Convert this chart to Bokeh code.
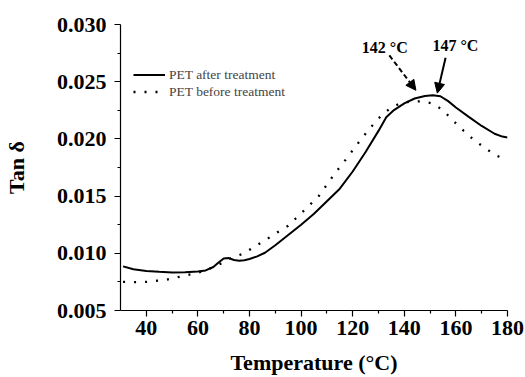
from bokeh.plotting import figure
from bokeh.models import Range1d, FixedTicker, Legend, LegendItem, Arrow, NormalHead, Label, NumeralTickFormatter
from bokeh.embed import file_html
from bokeh.resources import INLINE

# ---- data ----
after_x = [31, 35, 40, 45, 50, 55, 60, 63, 66, 68, 70, 72, 74, 76, 78, 80, 83, 86, 90, 95,
           100, 105, 110, 115, 120, 125, 130, 133, 136, 140, 144, 148, 151, 154, 157, 160,
           165, 170, 175, 178, 180]
after_y = [0.00886, 0.00860, 0.00845, 0.00838, 0.00833, 0.00834, 0.00840, 0.00850, 0.00880,
           0.00920, 0.00955, 0.00958, 0.00942, 0.00935, 0.00940, 0.00950, 0.00973, 0.01005,
           0.01070, 0.01160, 0.01250, 0.01345, 0.01455, 0.01565, 0.01715, 0.01885, 0.02070,
           0.02190, 0.02252, 0.02310, 0.02353, 0.02375, 0.02382, 0.02373, 0.02330, 0.02275,
           0.02193, 0.02113, 0.02045, 0.02020, 0.02013]

before_x = [31, 35, 40, 44, 48, 52, 56, 60, 65, 69.5, 73, 78, 82, 86.5, 90.5, 95, 99, 103,
            107, 110, 113, 116.5, 120, 123, 126.3, 130, 134, 138, 142, 147, 151, 155, 159,
            163, 167, 171.5, 175.7, 180]
before_y = [0.00750, 0.00747, 0.00750, 0.00760, 0.00770, 0.00790, 0.00810, 0.00830, 0.00870,
            0.00916, 0.00960, 0.01000, 0.01060, 0.01120, 0.01180, 0.01240, 0.01328, 0.01415,
            0.01504, 0.01600, 0.01695, 0.01795, 0.01900, 0.01990, 0.02083, 0.02179, 0.02257,
            0.02309, 0.02325, 0.02329, 0.02309, 0.02251, 0.02158, 0.02071, 0.01990, 0.01917,
            0.01853, 0.01820]

series_labels = ["PET after treatment", "PET before treatment"]

x_ticks = [40, 60, 80, 100, 120, 140, 160, 180]
x_minor = [50, 70, 90, 110, 130, 150, 170]
y_ticks = [0.005, 0.010, 0.015, 0.020, 0.025, 0.030]
y_minor = [0.0075, 0.0125, 0.0175, 0.0225, 0.0275]

ann_text = ["142 °C", "147 °C"]
ann_pos = [(123.5, 0.02800), (150.9, 0.02817)]
arrow_dashed = (134.2, 0.0273, 144.5, 0.02425)
arrow_solid = (156.0, 0.0271, 152.8, 0.0240)

FONT = "Liberation Serif"

p = figure(width=525, height=377, output_backend="svg", toolbar_location=None,
           x_range=Range1d(30, 180), y_range=Range1d(0.005, 0.030),
           min_border_left=118, min_border_right=18, min_border_top=24, min_border_bottom=66)
p.outline_line_color = None
p.grid.visible = False
p.background_fill_color = "white"

# axes
for ax in (p.xaxis[0], p.yaxis[0]):
    ax.axis_line_color = "black"
    ax.axis_line_width = 1.2
    ax.major_tick_in = 0
    ax.major_tick_out = 6
    ax.minor_tick_in = 0
    ax.minor_tick_out = 3
    ax.major_tick_line_width = 1.2
    ax.minor_tick_line_width = 1.2
    ax.major_label_text_font = FONT
    ax.major_label_text_font_style = "bold"
    ax.major_label_text_font_size = "22px"
    ax.major_label_text_color = "black"
    ax.axis_label_text_font = FONT
    ax.axis_label_text_font_style = "bold"
    ax.axis_label_text_font_size = "22px"
    ax.axis_label_text_color = "black"

p.xaxis.ticker = FixedTicker(ticks=x_ticks, minor_ticks=x_minor)
p.yaxis.ticker = FixedTicker(ticks=y_ticks, minor_ticks=y_minor)
p.yaxis.formatter = NumeralTickFormatter(format="0.000")
p.xaxis.axis_label = "Temperature (°C)"
p.yaxis.axis_label = "Tan δ"
p.xaxis.major_label_standoff = 4
p.yaxis.major_label_standoff = 8
p.xaxis.axis_label_standoff = 12
p.yaxis.axis_label_standoff = 25

# series
r1 = p.line(after_x, after_y, line_color="black", line_width=2)
r2 = p.line(before_x, before_y, line_color="black", line_width=2.3, line_dash="2 9")

legend = Legend(items=[LegendItem(label=series_labels[0], renderers=[r1]),
                       LegendItem(label=series_labels[1], renderers=[r2])],
                location=(13, 210), padding=0, margin=0, spacing=0,
                glyph_width=32, glyph_height=17, label_height=17, label_standoff=4,
                label_text_font=FONT, label_text_font_size="13.5px",
                border_line_color=None, background_fill_alpha=0)
p.add_layout(legend)

# annotations
for t, (x, y) in zip(ann_text, ann_pos):
    p.add_layout(Label(x=x, y=y, text=t, text_font=FONT, text_font_style="bold",
                       text_font_size="16px", text_baseline="alphabetic", text_color="black"))

x0, y0, x1, y1 = arrow_dashed
p.add_layout(Arrow(end=NormalHead(size=10, fill_color="black", line_color="black", line_width=1),
                   x_start=x0, y_start=y0, x_end=x1, y_end=y1,
                   line_width=2, line_dash="5 3", line_color="black"))
x0, y0, x1, y1 = arrow_solid
p.add_layout(Arrow(end=NormalHead(size=10, fill_color="black", line_color="black", line_width=1),
                   x_start=x0, y_start=y0, x_end=x1, y_end=y1,
                   line_width=2, line_color="black"))

open("out.html", "w").write(file_html(p, INLINE))
